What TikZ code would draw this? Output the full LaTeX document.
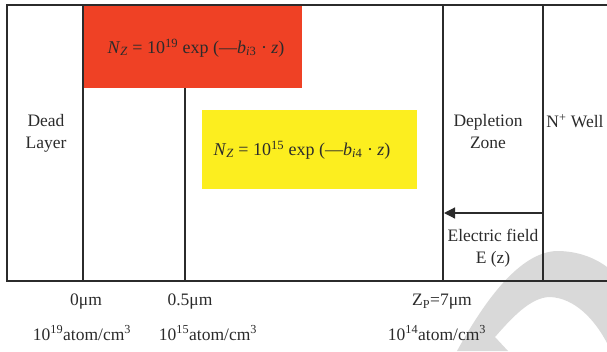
\documentclass[tikz,border=0pt]{standalone}
\usepackage{fontspec}
\setmainfont{Liberation Serif}
\usetikzlibrary{arrows.meta}
\definecolor{linec}{HTML}{2B2B2B}
\definecolor{redbox}{HTML}{EF4125}
\definecolor{yelbox}{HTML}{FCEE1F}
\definecolor{wmark}{HTML}{D9D9D9}
\tikzset{
  border/.style={draw=linec, line width=1.5pt},
  lbl/.style={font=\fontsize{17.5}{22}\selectfont, text=linec, inner sep=0pt, align=center},
  eqbox/.style={inner sep=0pt, font=\fontsize{18}{22}\selectfont, text=linec},
}
\begin{document}
\begin{tikzpicture}[x=1pt,y=-1pt]
\useasboundingbox (0,0) rectangle (607,351);
% watermark
\fill[wmark] (457,351) .. controls (485,300) and (520,252) .. (557,251)
  .. controls (578,251) and (595,258) .. (607,267) -- (607,343)
  .. controls (595,320) and (575,298) .. (550,297)
  .. controls (530,297) and (510,320) .. (495,337) -- (508,351) -- cycle;
% boxes
\fill[redbox] (84,6) rectangle (302,88);
\fill[yelbox] (202,110) rectangle (417,189);
% frame lines
\draw[border] (607,5) -- (7,5) -- (7,281) -- (607,281);
\draw[border] (83,5) -- (83,281);
\draw[border] (185,88) -- (185,281);
\draw[border] (185,5) -- (185,6);
\draw[border] (443,5) -- (443,281);
\draw[border] (543,5) -- (543,281);
% equations
\node[eqbox] (eq1) at (196,48) {\textit{N}\textsubscript{\textit{Z}} = 10\textsuperscript{19} exp (—\textit{b}\textsubscript{\textit{i}3} · \textit{z})};
\node[eqbox] (eq2) at (302,150) {\textit{N}\textsubscript{\textit{Z}} = 10\textsuperscript{15} exp (—\textit{b}\textsubscript{\textit{i}4} · \textit{z})};
% region labels
\node[lbl] (dead) at (46,133) {Dead\\Layer};
\node[lbl] (depl) at (488,132) {Depletion\\Zone};
\node[lbl] (well) at (575,121) {N\textsuperscript{+} Well};
\node[lbl] (ef) at (493,248) {Electric field\\E (z)};
% arrow
\coordinate (efs) at (543,213);
\coordinate (efe) at (444,213);
\draw[draw=linec, line width=1.2pt, -{Triangle[length=11pt,width=11pt]}] (efs) -- (efe);
% bottom labels
\node[lbl] (p0) at (86,302) {0μm};
\node[lbl] (p05) at (190,302) {0.5μm};
\node[lbl] (pz) at (442,302) {Z\textsubscript{P}=7μm};
\node[lbl] (c19) at (82,333) {10\textsuperscript{19}atom/cm\textsuperscript{3}};
\node[lbl] (c15) at (208,333) {10\textsuperscript{15}atom/cm\textsuperscript{3}};
\node[lbl] (c14) at (437,333) {10\textsuperscript{14}atom/cm\textsuperscript{3}};
\end{tikzpicture}
\end{document}
